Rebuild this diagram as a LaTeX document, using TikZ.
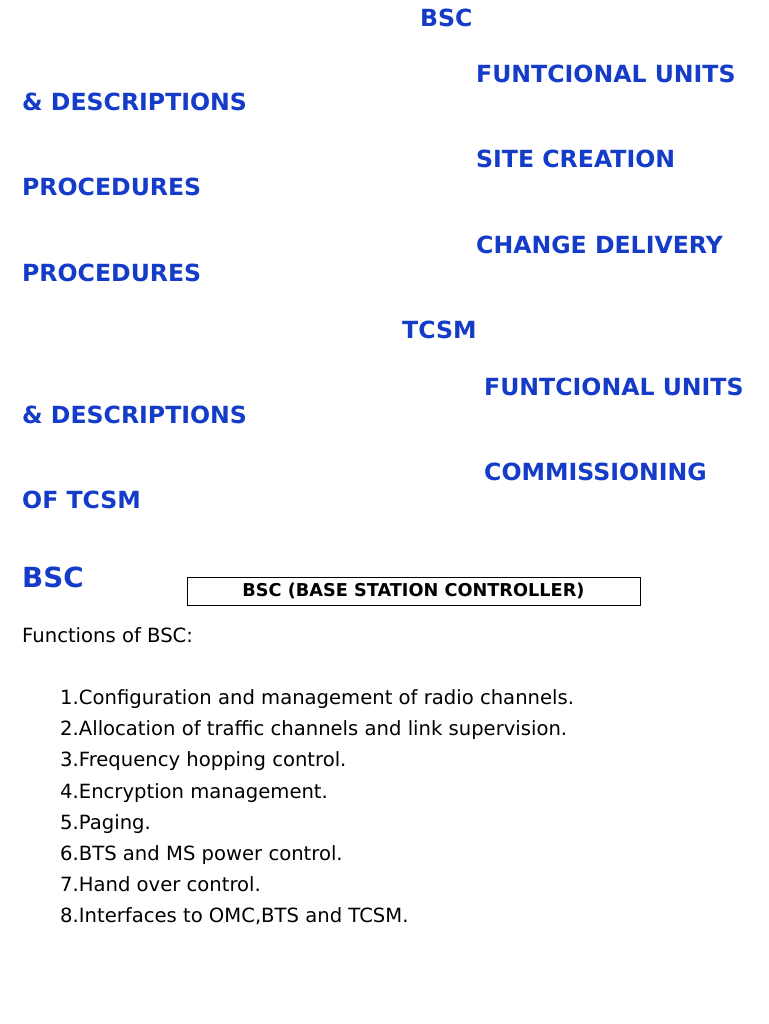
\documentclass[tikz,border=0pt]{standalone}
\usepackage{fontspec}
\setmainfont{DejaVu Sans}
\definecolor{hb}{RGB}{20,60,200}
\begin{document}
\begin{tikzpicture}[x=1pt,y=-1pt,
 hd/.style={anchor=base west,inner sep=0,text=hb,font=\bfseries\fontsize{23.6}{28}\selectfont},
 it/.style={anchor=base west,inner sep=0,font=\fontsize{19.6}{23}\selectfont}]
\useasboundingbox[fill=white] (0,0) rectangle (768,1024);
\node[hd] (h1) at (420,27) {BSC};
\node[hd] (h2) at (476,83) {FUNTCIONAL UNITS};
\node[hd] (h3) at (22,111) {\& DESCRIPTIONS};
\node[hd] (h4) at (476,168) {SITE CREATION};
\node[hd] (h5) at (22,196) {PROCEDURES};
\node[hd] (h6) at (476,253) {CHANGE DELIVERY};
\node[hd] (h7) at (22,281) {PROCEDURES};
\node[hd] (h8) at (402,338) {TCSM};
\node[hd] (h9) at (484,395) {FUNTCIONAL UNITS};
\node[hd] (h10) at (22,423) {\& DESCRIPTIONS};
\node[hd] (h11) at (484,480) {COMMISSIONING};
\node[hd] (h12) at (22,508) {OF TCSM};
\node[hd,font=\bfseries\fontsize{27.7}{32}\selectfont] (h13) at (22,587) {BSC};
\draw (187,577) rectangle (640,605);
\node[inner sep=0,font=\bfseries\fontsize{17.7}{20}\selectfont] (box) at (413.5,591) {BSC (BASE STATION CONTROLLER)};
\node[it] (f) at (22,642) {Functions of BSC:};
\node[it] (l1) at (60,704) {1.Configuration and management of radio channels.};
\node[it] (l2) at (60,735) {2.Allocation of traffic channels and link supervision.};
\node[it] (l3) at (60,766) {3.Frequency hopping control.};
\node[it] (l4) at (60,798) {4.Encryption management.};
\node[it] (l5) at (60,829) {5.Paging.};
\node[it] (l6) at (60,860) {6.BTS and MS power control.};
\node[it] (l7) at (60,891) {7.Hand over control.};
\node[it] (l8) at (60,922) {8.Interfaces to OMC,BTS and TCSM.};
\end{tikzpicture}
\end{document}
